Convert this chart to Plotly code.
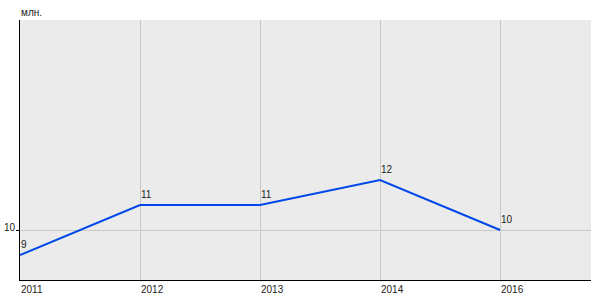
import plotly.graph_objects as go

years = ["2011", "2012", "2013", "2014", "2016"]
values = [9, 11, 11, 12, 10]
y_ticks = [10]
unit = "млн."

FONT = dict(family="Liberation Sans, Arial", size=10, color="#222")

fig = go.Figure()
fig.add_trace(go.Scatter(
    x=years, y=values, mode="lines",
    line=dict(color="#0048e8", width=2),
    cliponaxis=False, hoverinfo="skip",
))

for i, (yr, v) in enumerate(zip(years, values)):
    fig.add_annotation(x=i, xref="x", y=0, yref="paper", yanchor="top",
                       xanchor="left", yshift=-2, xshift=-1, text=yr,
                       showarrow=False, font=FONT)
    fig.add_annotation(x=i, xref="x", y=v, yref="y", yanchor="bottom",
                       xanchor="left", yshift=3, xshift=-1, text=str(v),
                       showarrow=False, font=FONT)

for t in y_ticks:
    fig.add_annotation(x=0, xref="paper", y=t, yref="y", yanchor="middle",
                       xanchor="right", yshift=3, xshift=-2, text=str(t),
                       showarrow=False, font=FONT)

fig.add_annotation(x=0, xref="paper", y=1, yref="paper", yanchor="bottom",
                   xanchor="left", yshift=0, xshift=-1, text=unit,
                   showarrow=False, font=FONT)

fig.update_layout(
    width=600, height=300,
    margin=dict(l=20, r=9, t=20, b=20),
    paper_bgcolor="white", plot_bgcolor="#ebebeb",
    showlegend=False,
    font=FONT,
    xaxis=dict(type="category", range=[0, 4.758], showticklabels=False,
               showgrid=True, gridcolor="#c8c8c8", gridwidth=1,
               showline=True, linecolor="black", linewidth=1, ticks="",
               zeroline=False, fixedrange=True, automargin=False),
    yaxis=dict(range=[8.0, 18.4], tickvals=y_ticks, showgrid=True,
               gridcolor="#c8c8c8", gridwidth=1, showline=True,
               linecolor="black", linewidth=1, ticks="outside", ticklen=3,
               tickcolor="black", showticklabels=False,
               zeroline=False, fixedrange=True, automargin=False),
)

fig.write_html("out.html")
